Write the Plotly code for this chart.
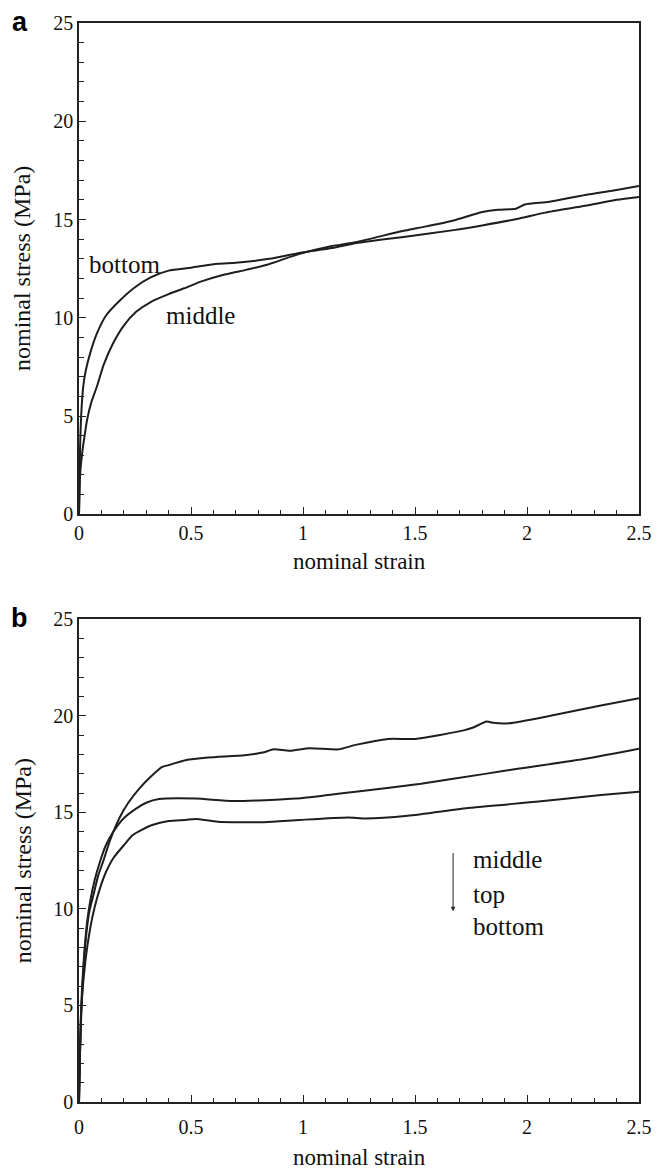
import plotly.graph_objects as go

# ---------------- data ----------------
# Panel a
a_bottom_strain = [0, 0.005, 0.012, 0.02, 0.03, 0.05, 0.08, 0.12, 0.18, 0.25, 0.32, 0.40, 0.50, 0.62, 0.70, 0.85, 0.985,
                   1.13, 1.24, 1.44, 1.673, 1.80, 1.966, 2.08, 2.26, 2.40, 2.50]
a_bottom_stress = [0, 3.5, 5.5, 6.6, 7.3, 8.2, 9.2, 10.1, 10.85, 11.55, 12.05, 12.4, 12.55, 12.75, 12.8, 13.0, 13.3,
                   13.55, 13.8, 14.1, 14.46, 14.7, 15.05, 15.35, 15.7, 16.0, 16.15]
a_middle_strain = [0, 0.005, 0.014, 0.025, 0.036, 0.055, 0.08, 0.11, 0.15, 0.20, 0.255, 0.32, 0.40, 0.47, 0.547, 0.65,
                   0.75, 0.84, 0.985, 1.13, 1.235, 1.44, 1.55, 1.673, 1.80, 1.87, 1.95, 1.99, 2.10, 2.26, 2.40, 2.50]
a_middle_stress = [0, 2.0, 3.1, 4.0, 4.8, 5.7, 6.5, 7.6, 8.65, 9.6, 10.3, 10.8, 11.2, 11.5, 11.85, 12.2,
                   12.45, 12.7, 13.25, 13.65, 13.85, 14.4, 14.65, 14.95, 15.38, 15.5, 15.55, 15.76, 15.9, 16.25, 16.5, 16.7]

# Panel b
b_middle_strain = [0, 0.004, 0.014, 0.0285, 0.045, 0.065, 0.085, 0.109, 0.14, 0.18, 0.22, 0.27, 0.32, 0.37, 0.40,
                   0.475, 0.577, 0.74, 0.82, 0.87, 0.94, 1.03, 1.16, 1.235, 1.38, 1.50, 1.717, 1.76, 1.82, 1.85,
                   1.92, 2.11, 2.33, 2.50]
b_middle_stress = [0, 2.5, 5.6, 8.2, 9.8, 10.75, 11.7, 12.5, 13.6, 14.7, 15.5, 16.25, 16.85, 17.35, 17.45,
                   17.7, 17.84, 17.96, 18.1, 18.27, 18.2, 18.33, 18.27, 18.5, 18.81, 18.81, 19.25, 19.4, 19.71, 19.64,
                   19.62, 20.02, 20.54, 20.91]
b_top_strain = [0, 0.004, 0.01, 0.021, 0.035, 0.05, 0.07, 0.094, 0.12, 0.153, 0.20, 0.255, 0.30, 0.357, 0.52, 0.69,
                0.97, 1.13, 1.235, 1.527, 1.82, 1.966, 2.26, 2.50]
b_top_stress = [0, 2.3, 5.0, 7.3, 9.2, 10.4, 11.5, 12.46, 13.3, 14.0, 14.7, 15.2, 15.5, 15.69, 15.72, 15.59,
                15.72, 15.93, 16.07, 16.49, 17.01, 17.27, 17.78, 18.3]
b_bottom_strain = [0, 0.004, 0.01, 0.0285, 0.05, 0.07, 0.094, 0.12, 0.153, 0.20, 0.24, 0.28, 0.327, 0.40, 0.475,
                   0.52, 0.62, 0.825, 0.985, 1.20, 1.28, 1.468, 1.746, 2.04, 2.33, 2.50]
b_bottom_stress = [0, 2.2, 4.8, 7.3, 9.0, 10.1, 11.08, 11.9, 12.63, 13.3, 13.83, 14.1, 14.35, 14.55, 14.61,
                   14.66, 14.52, 14.49, 14.61, 14.74, 14.69, 14.83, 15.24, 15.55, 15.9, 16.07]

x_ticks = [0, 0.5, 1, 1.5, 2, 2.5]
x_tick_labels = ["0", "0.5", "1", "1.5", "2", "2.5"]
y_ticks = [0, 5, 10, 15, 20, 25]
y_tick_labels = ["0", "5", "10", "15", "20", "25"]

# ---------------- figure ----------------
W, H = 664, 1169
ML, MR, MT, MB = 79, 18, 17, 67
PW, PH = W - ML - MR, H - MT - MB


def px(x):
    return (x - ML) / PW


def py(y):
    return (H - MB - y) / PH


LINE = dict(color="#1e1e1e", width=2, shape="spline", smoothing=0.6)
SERIF = "Liberation Serif, Times New Roman, serif"
AX = "#222222"

fig = go.Figure()
for xs, ys, xa, ya in [(a_bottom_strain, a_bottom_stress, "x", "y"),
                       (a_middle_strain, a_middle_stress, "x", "y"),
                       (b_middle_strain, b_middle_stress, "x2", "y2"),
                       (b_top_strain, b_top_stress, "x2", "y2"),
                       (b_bottom_strain, b_bottom_stress, "x2", "y2")]:
    fig.add_trace(go.Scatter(x=xs, y=ys, mode="lines", line=LINE, xaxis=xa, yaxis=ya, showlegend=False,
                             hoverinfo="skip"))


def xaxis(anchor, standoff):
    return dict(range=[0, 2.5], anchor=anchor, tickvals=x_ticks, ticktext=x_tick_labels,
                ticks="inside", ticklen=7, tickwidth=1.2, tickcolor=AX, ticklabelstandoff=standoff,
                minor=dict(dtick=0.1, ticks="inside", ticklen=4, tickwidth=1.2, tickcolor=AX),
                showline=True, linecolor=AX, linewidth=1.6, mirror=True, showgrid=False, zeroline=False,
                tickfont=dict(family=SERIF, size=20, color="#111"), fixedrange=True)


def yaxis(anchor, dom):
    return dict(range=[0, 25], anchor=anchor, domain=dom, tickvals=y_ticks, ticktext=y_tick_labels,
                ticks="inside", ticklen=7, tickwidth=1.2, tickcolor=AX,
                minor=dict(dtick=1, ticks="inside", ticklen=5, tickwidth=1.2, tickcolor=AX),
                showline=True, linecolor=AX, linewidth=1.6, mirror=True, showgrid=False, zeroline=False,
                tickfont=dict(family=SERIF, size=20, color="#111"), fixedrange=True)


a_dom = [py(511), 1]
b_dom = [0, py(616.7)]

annotations = []
ytxt = dict(family=SERIF, size=24, color="#111")
xtxt = dict(family=SERIF, size=23, color="#111")
# y-axis titles
annotations.append(dict(xref="paper", yref="paper", x=px(22), y=py(263.7), text="nominal stress (MPa)",
                        textangle=-90, showarrow=False, font=ytxt, xanchor="center", yanchor="middle"))
annotations.append(dict(xref="paper", yref="paper", x=px(22), y=py(859.3), text="nominal stress (MPa)",
                        textangle=-90, showarrow=False, font=ytxt, xanchor="center", yanchor="middle"))
# x-axis titles
annotations.append(dict(xref="paper", yref="paper", x=0.5, y=py(558), text="nominal strain",
                        showarrow=False, font=xtxt, xanchor="center", yanchor="middle"))
annotations.append(dict(xref="paper", yref="paper", x=0.5, y=py(1158), text="nominal strain",
                        showarrow=False, font=xtxt, xanchor="center", yanchor="middle"))
# panel letters
lbl = dict(family="Liberation Sans, Arial, sans-serif", size=27, color="#000")
annotations.append(dict(xref="paper", yref="paper", x=px(19), y=py(16), text="<b>a</b>",
                        showarrow=False, font=lbl, xanchor="center", yanchor="middle"))
annotations.append(dict(xref="paper", yref="paper", x=px(19), y=py(615), text="<b>b</b>",
                        showarrow=False, font=lbl, xanchor="center", yanchor="middle"))
# curve labels, panel a
big = dict(family=SERIF, size=25, color="#111")
annotations.append(dict(xref="x", yref="y", x=0.037, y=12.69, text="bottom", showarrow=False, font=big,
                        xanchor="left", yanchor="middle"))
annotations.append(dict(xref="x", yref="y", x=0.38, y=10.1, text="middle", showarrow=False, font=big,
                        xanchor="left", yanchor="middle"))
# curve labels, panel b
annotations.append(dict(xref="x2", yref="y2", x=1.749, y=12.56, text="middle", showarrow=False, font=big,
                        xanchor="left", yanchor="middle"))
annotations.append(dict(xref="x2", yref="y2", x=1.749, y=10.76, text="top", showarrow=False, font=big,
                        xanchor="left", yanchor="middle"))
annotations.append(dict(xref="x2", yref="y2", x=1.749, y=9.11, text="bottom", showarrow=False, font=big,
                        xanchor="left", yanchor="middle"))
annotations.append(dict(xref="x2", yref="y2", axref="x2", ayref="y2", x=1.670, y=9.88, ax=1.670, ay=12.97,
                        text="", showarrow=True, arrowhead=2, arrowsize=0.9, arrowwidth=1, arrowcolor="#222"))

fig.update_layout(
    width=W, height=H,
    margin=dict(l=ML, r=MR, t=MT, b=MB),
    paper_bgcolor="white", plot_bgcolor="white",
    xaxis=xaxis("y", 0), yaxis=yaxis("x", a_dom),
    xaxis2=xaxis("y2", 6), yaxis2=yaxis("x2", b_dom),
    annotations=annotations,
    showlegend=False,
)

fig.write_html("out.html")
